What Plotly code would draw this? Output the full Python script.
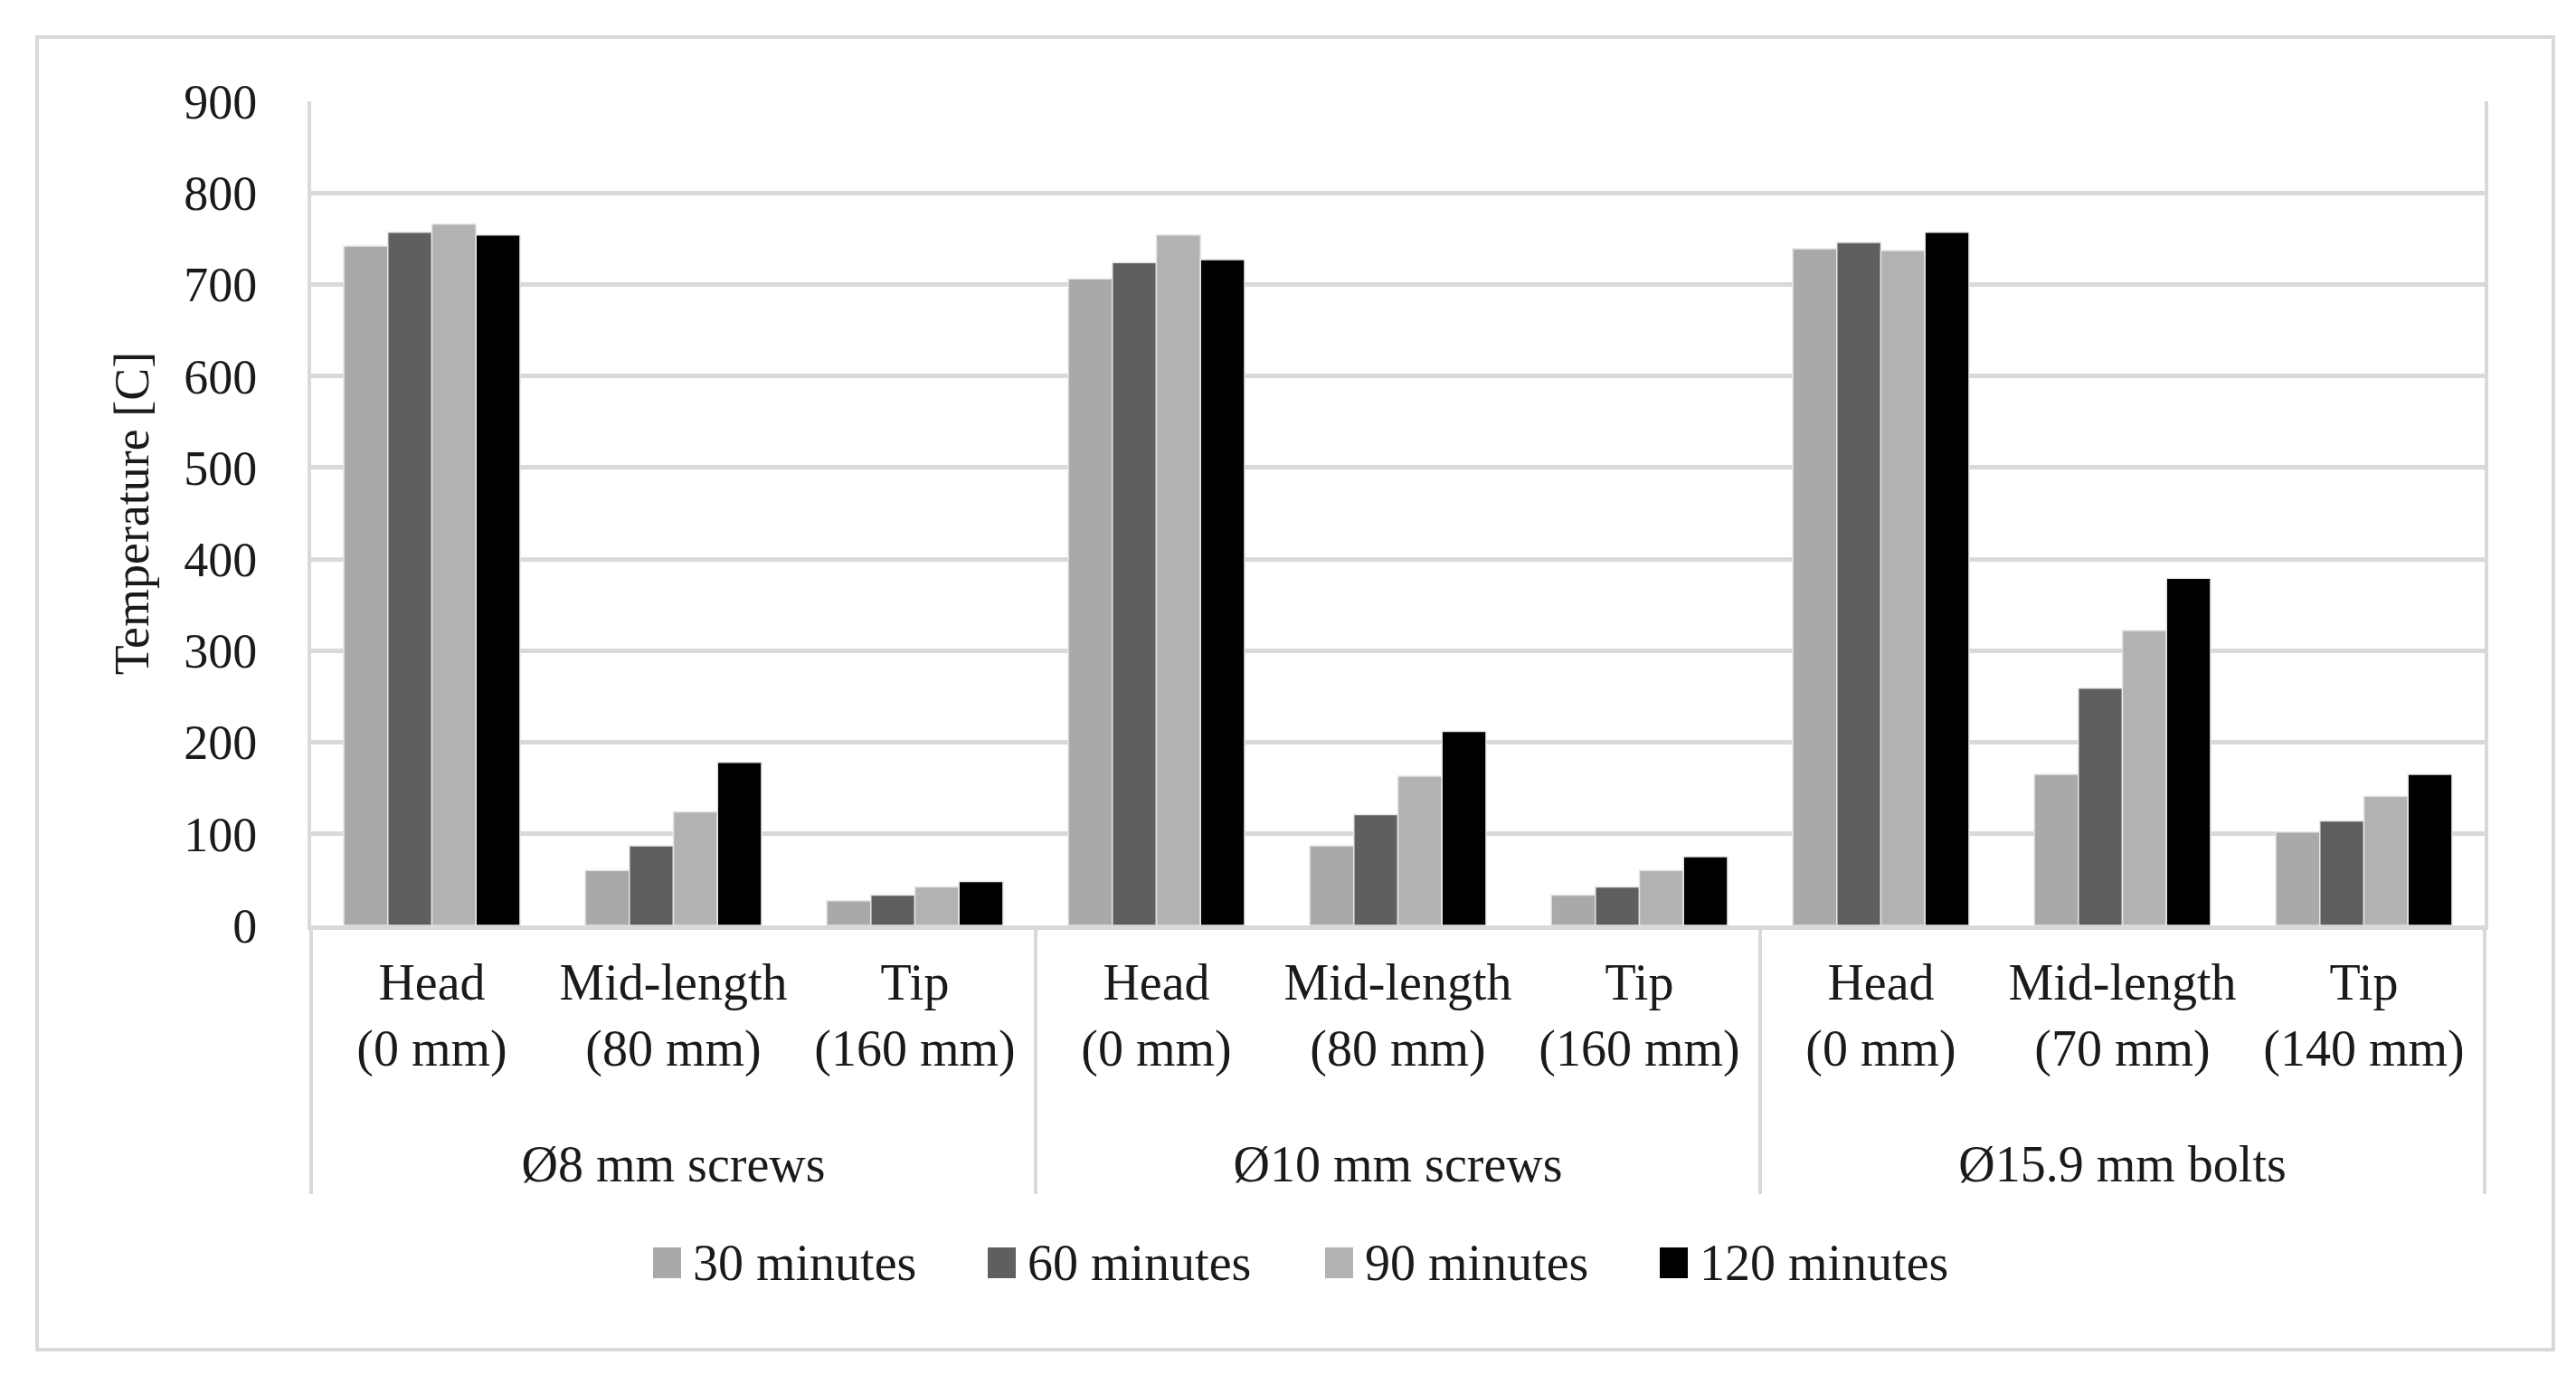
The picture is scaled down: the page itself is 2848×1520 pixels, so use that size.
import plotly.graph_objects as go

# categories (two-level x axis)
groups = ["Ø8 mm screws", "Ø10 mm screws", "Ø15.9 mm bolts"]
positions = [
    ["Head<br>(0 mm)", "Mid-length<br>(80 mm)", "Tip<br>(160 mm)"],
    ["Head<br>(0 mm)", "Mid-length<br>(80 mm)", "Tip<br>(160 mm)"],
    ["Head<br>(0 mm)", "Mid-length<br>(70 mm)", "Tip<br>(140 mm)"],
]

# temperatures [C]
t30 = [742, 60, 27, 706, 87, 33, 739, 165, 102]
t60 = [757, 87, 33, 724, 121, 42, 746, 259, 114]
t90 = [766, 124, 42, 754, 163, 60, 737, 322, 141]
t120 = [754, 178, 48, 727, 212, 75, 757, 379, 165]

series_names = ["30 minutes", "60 minutes", "90 minutes", "120 minutes"]
series_vals = [t30, t60, t90, t120]
series_cols = ["#a9a9a9", "#5f5f5f", "#b2b2b2", "#000000"]

W, H = 2848, 1520
L, R, T, B = 336, 109, 104, 505
FONT = "Liberation Serif"
FS = 56
TXT = "#1a1a1a"
GRID = "#d9d9d9"

# outer labels get a leading line break so they sit below the two-line inner labels
x_outer = ["<br>" + g for g, p in zip(groups, positions) for _ in p]
x_inner = [c for p in positions for c in p]

fig = go.Figure()
for name, vals, col in zip(series_names, series_vals, series_cols):
    fig.add_trace(go.Bar(
        x=[x_outer, x_inner], y=vals, name=name,
        marker=dict(color=col, line=dict(color="#e6e6e6", width=1.5)),
        showlegend=False,
    ))

# pixel -> paper helpers for the hand-made legend and the frame
pw, ph = W - L - R, H - T - B
px = lambda v: (v - L) / pw
py = lambda v: (H - B - v) / ph

# legend: squares + labels laid out like the original
leg_x = [714, 1084, 1457, 1827]
leg_y = 1388
for xs, name, col in zip(leg_x, series_names, series_cols):
    fig.add_shape(type="rect", xref="paper", yref="paper",
                  x0=px(xs), x1=px(xs + 31), y0=py(leg_y + 17), y1=py(leg_y - 17),
                  fillcolor=col, line=dict(width=0))
    fig.add_annotation(xref="paper", yref="paper", x=px(xs + 42), y=py(leg_y),
                       text=name, showarrow=False, xanchor="left", yanchor="middle",
                       font=dict(family=FONT, size=FS, color=TXT))

# outer chart frame
fig.add_shape(type="rect", xref="paper", yref="paper",
              x0=px(33), x1=px(2815), y0=py(1484), y1=py(33),
              line=dict(color=GRID, width=4), layer="below")

fig.update_layout(
    width=W, height=H,
    margin=dict(l=L, r=R, t=T, b=B),
    barmode="group", bargap=0.27, bargroupgap=0,
    plot_bgcolor="white", paper_bgcolor="white",
    font=dict(family=FONT, size=FS, color=TXT),
)
fig.update_xaxes(
    type="multicategory",
    showline=True, linecolor=GRID, linewidth=5,
    showdividers=True, dividercolor=GRID, dividerwidth=4,
    ticks="", tickfont=dict(family=FONT, size=FS, color=TXT),
    ticklabelstandoff=10,
)
fig.update_yaxes(
    range=[0, 900], dtick=100,
    showgrid=True, gridcolor=GRID, gridwidth=5,
    zeroline=False,
    showline=True, mirror=True, linecolor=GRID, linewidth=4,
    ticks="", ticklabelstandoff=45,
    tickfont=dict(family=FONT, size=FS - 2, color=TXT),
    title=dict(text="Temperature [C]", standoff=22,
               font=dict(family=FONT, size=FS - 2, color=TXT)),
)

fig.write_html("out.html")
